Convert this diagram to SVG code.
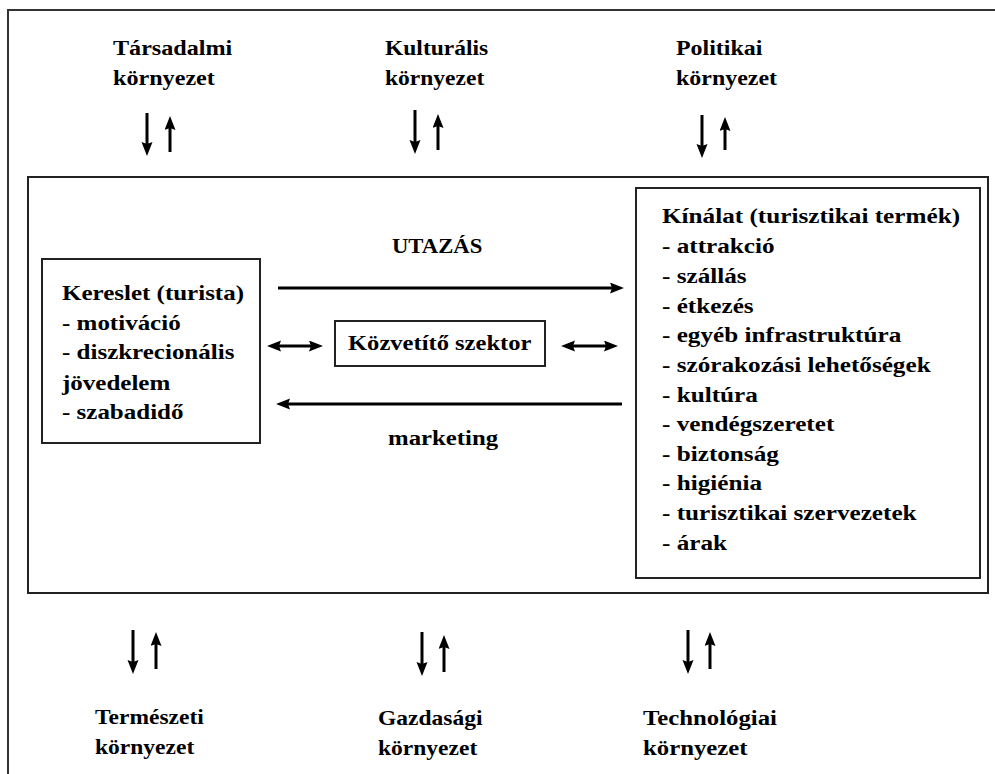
<svg xmlns="http://www.w3.org/2000/svg" width="995" height="774" viewBox="0 0 995 774">
<style>
.t{font-family:"Liberation Serif","Times New Roman",serif;font-weight:bold;font-size:21px;fill:#000}
.box{fill:none;stroke:#222;stroke-width:2}
.ln{stroke:#000;stroke-width:3;fill:none}
.a{marker-end:url(#ah)}
.d{marker-start:url(#ahs);marker-end:url(#ah)}
</style>
<defs>
<marker id="ah" markerUnits="userSpaceOnUse" markerWidth="15" markerHeight="13" refX="6" refY="5.5" orient="auto"><path d="M0,0 L14,5.5 L0,11 L2,5.5 z" fill="#000"/></marker>
<marker id="ahs" markerUnits="userSpaceOnUse" markerWidth="15" markerHeight="13" refX="6" refY="5.5" orient="auto-start-reverse"><path d="M0,0 L14,5.5 L0,11 L2,5.5 z" fill="#000"/></marker>
</defs>
<rect width="995" height="774" fill="#fff"/>
<rect x="8" y="10" width="1000" height="800" fill="none" stroke="#333" stroke-width="2"/>
<g id="inner-frame"><rect class="box" x="28" y="177" width="960" height="416"/></g>

<g id="tarsadalmi"><text class="t" transform="translate(113,0) scale(1.15,1)"><tspan x="0" y="55">Társadalmi</tspan><tspan x="0" y="85">környezet</tspan></text></g>
<g id="kulturalis"><text class="t" transform="translate(385,0) scale(1.12,1)"><tspan x="0" y="55">Kulturális</tspan><tspan x="0" y="85">környezet</tspan></text></g>
<g id="politikai"><text class="t" transform="translate(676,0) scale(1.14,1)"><tspan x="0" y="55">Politikai</tspan><tspan x="0" y="85">környezet</tspan></text></g>
<g id="termeszeti"><text class="t" transform="translate(95,0) scale(1.12,1)"><tspan x="0" y="724">Természeti</tspan><tspan x="0" y="754">környezet</tspan></text></g>
<g id="gazdasagi"><text class="t" transform="translate(378,0) scale(1.12,1)"><tspan x="0" y="725">Gazdasági</tspan><tspan x="0" y="755">környezet</tspan></text></g>
<g id="technologiai"><text class="t" transform="translate(643,0) scale(1.18,1)"><tspan x="0" y="725">Technológiai</tspan><tspan x="0" y="755">környezet</tspan></text></g>

<g id="kereslet">
<rect class="box" x="42" y="259" width="218" height="184"/>
<text class="t" transform="translate(62,0) scale(1.19,1)"><tspan x="0" y="300">Kereslet (turista)</tspan><tspan x="0" y="330">- motiváció</tspan><tspan x="0" y="359">- diszkrecionális</tspan><tspan x="0" y="390">jövedelem</tspan><tspan x="0" y="419">- szabadidő</tspan></text>
</g>

<g id="kozvetito">
<rect class="box" x="335" y="321" width="210" height="45"/>
<text class="t" transform="translate(348,350) scale(1.17,1)">Közvetítő szektor</text>
</g>

<g id="kinalat">
<rect class="box" x="636" y="188" width="344" height="390"/>
<text class="t" transform="translate(662,0) scale(1.2,1)"><tspan x="0" y="223">Kínálat (turisztikai termék)</tspan><tspan x="0" y="253">- attrakció</tspan><tspan x="0" y="283">- szállás</tspan><tspan x="0" y="313">- étkezés</tspan><tspan x="0" y="342">- egyéb infrastruktúra</tspan><tspan x="0" y="372">- szórakozási lehetőségek</tspan><tspan x="0" y="402">- kultúra</tspan><tspan x="0" y="431">- vendégszeretet</tspan><tspan x="0" y="461">- biztonság</tspan><tspan x="0" y="490">- higiénia</tspan><tspan x="0" y="520">- turisztikai szervezetek</tspan><tspan x="0" y="550">- árak</tspan></text>
</g>

<g id="labels">
<text class="t" transform="translate(392,253) scale(1.08,1)">UTAZÁS</text>
<text class="t" transform="translate(388,445) scale(1.18,1)">marketing</text>
</g>

<g id="connectors">
<line class="ln a" x1="278" y1="288" x2="616" y2="288"/>
<line class="ln a" x1="622" y1="404" x2="284" y2="404"/>
<line class="ln d" x1="275" y1="346" x2="315" y2="346"/>
<line class="ln d" x1="569" y1="346" x2="610" y2="346"/>

<line class="ln a" x1="147" y1="113" x2="147" y2="148"/>
<line class="ln a" x1="170" y1="152" x2="170" y2="124"/>
<line class="ln a" x1="415" y1="110" x2="415" y2="146"/>
<line class="ln a" x1="438" y1="150" x2="438" y2="122"/>
<line class="ln a" x1="702" y1="115" x2="702" y2="150"/>
<line class="ln a" x1="725" y1="150" x2="725" y2="125"/>

<line class="ln a" x1="133" y1="630" x2="133" y2="666"/>
<line class="ln a" x1="156" y1="669" x2="156" y2="640"/>
<line class="ln a" x1="422" y1="632" x2="422" y2="668"/>
<line class="ln a" x1="444" y1="672" x2="444" y2="643"/>
<line class="ln a" x1="688" y1="630" x2="688" y2="666"/>
<line class="ln a" x1="710" y1="669" x2="710" y2="640"/>
</g>
</svg>
